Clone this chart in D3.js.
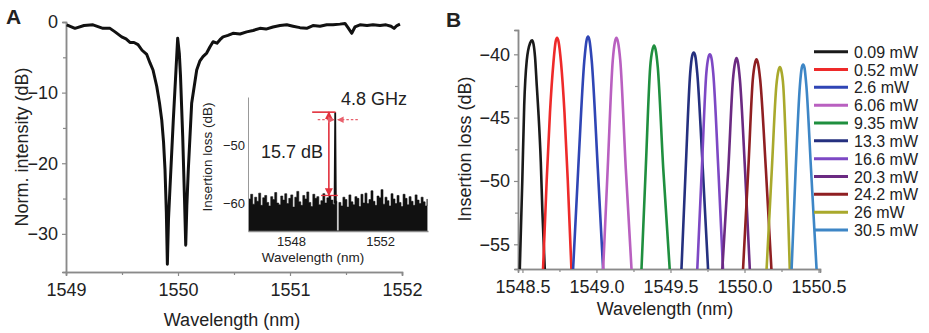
<!DOCTYPE html>
<html>
<head>
<meta charset="utf-8">
<script src="https://cdn.jsdelivr.net/npm/d3@7"></script>
<style>
  body { margin: 0; background: #fff; }
  text { font-family: "Liberation Sans", Arial, Helvetica, sans-serif; fill: #222; }
</style>
</head>
<body>
<svg id="chart" width="929" height="333"></svg>
<script>
// ---- Panel A: main spectrum [wavelength nm, normalized intensity dB]
const mainSpectrum = [
  [1549.006,-0.4],[1549.080,-0.9],[1549.161,-0.5],[1549.241,-0.4],[1549.330,-0.9],
  [1549.393,-0.9],[1549.438,-1.4],[1549.497,-2.1],[1549.536,-2.4],[1549.571,-2.9],
  [1549.607,-2.9],[1549.643,-3.2],[1549.679,-4.0],[1549.721,-4.6],[1549.750,-5.8],
  [1549.777,-6.8],[1549.810,-9.1],[1549.835,-11.5],[1549.855,-13.9],[1549.871,-17.0],
  [1549.884,-20.9],[1549.896,-27.0],[1549.905,-34.3],[1549.915,-28.0],[1549.929,-23.3],
  [1549.958,-13.9],[1549.982,-6.8],[1549.997,-2.3],[1550.012,-4.5],[1550.022,-7.5],
  [1550.042,-16.2],[1550.058,-25.0],[1550.069,-31.6],[1550.079,-26.0],[1550.092,-20.9],
  [1550.122,-11.5],[1550.167,-6.8],[1550.196,-5.5],[1550.223,-4.9],[1550.256,-4.4],
  [1550.286,-3.5],[1550.313,-2.8],[1550.348,-3.0],[1550.375,-2.5],[1550.402,-2.1],
  [1550.446,-1.9],[1550.491,-1.6],[1550.554,-1.7],[1550.613,-1.4],[1550.670,-1.2],
  [1550.732,-0.9],[1550.786,-1.0],[1550.848,-0.7],[1550.911,-0.5],[1550.971,-0.4],
  [1551.027,-0.6],[1551.089,-0.8],[1551.149,-0.9],[1551.205,-0.5],[1551.268,-0.6],
  [1551.328,-0.4],[1551.384,-0.4],[1551.446,-0.3],[1551.491,-0.2],[1551.518,-0.8],
  [1551.551,-1.6],[1551.580,-0.7],[1551.625,-0.4],[1551.688,-0.5],[1551.741,-0.4],
  [1551.804,-0.5],[1551.857,-0.4],[1551.902,-0.6],[1551.929,-0.9],[1551.955,-0.5],
  [1551.982,-0.3]
];
const mainXTicks = [1549, 1550, 1551, 1552];
const mainYTicks = [0, -10, -20, -30];

// ---- Panel A inset: noise floor top (dB), sampled from 1546.1 nm every 0.09 nm
const noiseStart = 1546.1, noiseStep = 0.09;
const noiseTop = [
  -59.2,-58.4,-60.1,-58.9,-59.6,-58.2,-60.3,-59.0,-58.6,-59.8,
  -60.4,-58.8,-59.3,-58.1,-59.9,-60.2,-58.7,-59.4,-58.3,-60.0,
  -59.1,-58.5,-60.6,-58.9,-57.9,-59.7,-60.3,-58.6,-59.2,-58.0,
  -59.8,-60.5,-58.4,-59.1,-58.8,-60.2,-59.5,-58.3,-59.9,-59.0,
  -58.6,-59.4,-60.1,-59.6,-64.7,-59.8,-60.4,-58.9,-59.3,-60.6,
  -58.5,-59.7,-60.2,-58.8,-59.1,-60.5,-58.4,-59.9,-58.2,-60.0,
  -59.3,-57.8,-59.6,-60.3,-58.7,-59.0,-57.6,-60.1,-58.9,-59.5,
  -60.4,-58.3,-59.2,-60.0,-58.6,-59.8,-60.5,-58.4,-59.1,-60.2,
  -58.8,-59.6,-60.3,-58.5,-59.4,-60.0,-58.9,-59.7,-60.4,-59.2
];
const insetPeak = [[1549.955,-60],[1549.985,-44.3],[1550.015,-60]];
const insetXTicks = [1548, 1552];
const insetYTicks = [-50, -60];

// ---- Panel B: filter responses for each heater power
const powerLabels = ["0.09 mW","0.52 mW","2.6 mW","6.06 mW","9.35 mW","13.3 mW",
                     "16.6 mW","20.3 mW","24.2 mW","26 mW","30.5 mW"];
const spec009 = [[1548.482,-57],[1548.499,-50],[1548.512,-44],[1548.529,-40.5],[1548.552,-39.1],[1548.565,-38.9],[1548.575,-39.2],[1548.585,-40.2],[1548.597,-42.5],[1548.608,-44.6],[1548.624,-48.5],[1548.635,-52.5],[1548.651,-57]];
const spec052 = [[1548.639,-57],[1548.664,-49.9],[1548.686,-44.6],[1548.709,-40.7],[1548.724,-39],[1548.734,-38.7],[1548.744,-39],[1548.761,-40.7],[1548.784,-44.6],[1548.806,-49.9],[1548.831,-57]];
const spec26 = [[1548.842,-57],[1548.877,-49],[1548.918,-40.5],[1548.933,-38.9],[1548.943,-38.6],[1548.953,-38.9],[1548.968,-40.5],[1549.009,-49],[1549.045,-57]];
const spec606 = [[1549.045,-57],[1549.076,-49],[1549.110,-40.5],[1549.125,-39],[1549.135,-38.7],[1549.145,-39],[1549.161,-40.5],[1549.198,-49],[1549.237,-57]];
const spec935 = [[1549.304,-57],[1549.333,-49],[1549.363,-41],[1549.379,-39.6],[1549.389,-39.3],[1549.399,-39.6],[1549.414,-41],[1549.451,-49],[1549.495,-57]];
const spec133 = [[1549.574,-57],[1549.603,-49],[1549.633,-41.5],[1549.647,-40.1],[1549.657,-39.86],[1549.667,-40.1],[1549.681,-41.5],[1549.718,-49],[1549.754,-57]];
const spec166 = [[1549.681,-57],[1549.712,-49],[1549.742,-41.5],[1549.756,-40.25],[1549.766,-40.0],[1549.776,-40.25],[1549.789,-41.5],[1549.823,-49],[1549.855,-57]];
const spec203 = [[1549.850,-57],[1549.891,-49],[1549.922,-42],[1549.937,-40.6],[1549.946,-40.3],[1549.955,-40.6],[1549.969,-42],[1550.003,-49],[1550.036,-57]];
const spec242 = [[1549.990,-57],[1550.026,-49],[1550.056,-42],[1550.071,-40.7],[1550.081,-40.4],[1550.091,-40.7],[1550.106,-42],[1550.144,-49],[1550.182,-57]];
const spec26b = [[1550.149,-57],[1550.185,-49],[1550.215,-42.5],[1550.230,-41.25],[1550.239,-41.0],[1550.248,-41.25],[1550.262,-42.5],[1550.285,-49],[1550.306,-57]];
const spec305 = [[1550.318,-57],[1550.346,-49],[1550.374,-42.5],[1550.387,-41.05],[1550.396,-40.8],[1550.405,-41.05],[1550.418,-42.5],[1550.449,-49],[1550.487,-57]];
const spectraB = [spec009, spec052, spec26, spec606, spec935, spec133, spec166, spec203, spec242, spec26b, spec305];
const seriesColors = ["#1a1a1a","#ee2a2a","#2f45b5","#b960c0","#1f8f3f","#25307f",
                      "#7d48c4","#6b2a82","#8f1f22","#a9a92c","#3d86c6"];
const bXTicks = [1548.5, 1549.0, 1549.5, 1550.0, 1550.5];
const bYTicks = [-40, -45, -50, -55];

const svg = d3.select('#chart');
const axisColor = '#8a8a8a';

// small helper: style an axis group the same way everywhere
function styleAxis(g, fontSize) {
  g.select('.domain').attr('stroke', axisColor).attr('stroke-width', 1.5);
  g.selectAll('.tick line').attr('stroke', axisColor).attr('stroke-width', 1.2);
  g.selectAll('.tick text').attr('font-size', fontSize).attr('fill', '#222')
    .style('font-family', '"Liberation Sans", Arial, sans-serif');
}

// ================= Panel A =================
const xA = d3.scaleLinear().domain([1549, 1552]).range([66, 402]);
const yA = d3.scaleLinear().domain([-35.4, 0]).range([272, 22]);

// minor ticks first
svg.append('g').attr('transform', 'translate(0,272)')
  .call(d3.axisBottom(xA).tickValues([1549.5, 1550.5, 1551.5]).tickSize(3).tickFormat(''))
  .call(g => styleAxis(g, 18));
svg.append('g').attr('transform', 'translate(66,0)')
  .call(d3.axisLeft(yA).tickValues([-5, -15, -25]).tickSize(3).tickFormat(''))
  .call(g => styleAxis(g, 18));

svg.append('g').attr('transform', 'translate(0,272)')
  .call(d3.axisBottom(xA).tickValues(mainXTicks).tickSize(4).tickPadding(7).tickFormat(d3.format('d')))
  .call(g => styleAxis(g, 18));
svg.append('g').attr('transform', 'translate(66,0)')
  .call(d3.axisLeft(yA).tickValues(mainYTicks).tickSize(4).tickPadding(4))
  .call(g => styleAxis(g, 18));

svg.append('path')
  .datum(mainSpectrum)
  .attr('fill', 'none')
  .attr('stroke', '#111')
  .attr('stroke-width', 3)
  .attr('stroke-linejoin', 'round')
  .attr('d', d3.line().x(d => xA(d[0])).y(d => yA(d[1])));

svg.append('text').attr('transform', 'translate(28,147) rotate(-90)')
  .attr('text-anchor', 'middle').attr('font-size', 18).text('Norm. intensity (dB)');
svg.append('text').attr('x', 232).attr('y', 326)
  .attr('text-anchor', 'middle').attr('font-size', 18).text('Wavelength (nm)');
svg.append('text').attr('x', 6).attr('y', 24)
  .attr('font-size', 21).attr('font-weight', 'bold').text('A');

// ---- inset
const xI = d3.scaleLinear().domain([1546.07, 1554.15]).range([248, 428]);
const yI = d3.scaleLinear().domain([-64.7, -41.7]).range([231, 97]);

const noiseArea = d3.area()
  .curve(d3.curveStepAfter)
  .x((d, i) => xI(noiseStart + i * noiseStep))
  .y0(yI(-64.7))
  .y1(d => yI(d));
svg.append('path').datum(noiseTop)
  .attr('fill', '#111').attr('stroke', '#111').attr('stroke-width', 0.6)
  .attr('d', noiseArea);
svg.append('path').datum(insetPeak)
  .attr('fill', 'none').attr('stroke', '#111').attr('stroke-width', 1.8)
  .attr('d', d3.line().x(d => xI(d[0])).y(d => yI(d[1])));

svg.append('g').attr('transform', 'translate(0,231)')
  .call(d3.axisBottom(xI).tickValues(insetXTicks).tickSize(0).tickPadding(6).tickFormat(d3.format('d')))
  .call(g => styleAxis(g, 13));
svg.append('g').attr('class', 'inset-y').attr('transform', 'translate(248,0)')
  .call(d3.axisLeft(yI).tickValues(insetYTicks).tickSize(0).tickPadding(3))
  .call(g => styleAxis(g, 13))
  .call(g => g.select('.domain').attr('stroke', '#999').attr('stroke-width', 1));

svg.append('text').attr('transform', 'translate(212,157) rotate(-90)')
  .attr('text-anchor', 'middle').attr('font-size', 13.5).text('Insertion loss (dB)');
svg.append('text').attr('x', 313).attr('y', 262)
  .attr('text-anchor', 'middle').attr('font-size', 13.5).text('Wavelength (nm)');

// red annotations
const red = '#e2313d';
const defs = svg.append('defs');
defs.append('marker').attr('id', 'arr').attr('viewBox', '0 0 10 10')
  .attr('refX', 9).attr('refY', 5).attr('markerWidth', 5).attr('markerHeight', 5)
  .attr('orient', 'auto-start-reverse')
  .append('path').attr('d', 'M0,0 L10,5 L0,10 z').attr('fill', red);
defs.append('marker').attr('id', 'arrp').attr('viewBox', '0 0 10 10')
  .attr('refX', 9).attr('refY', 5).attr('markerWidth', 5).attr('markerHeight', 5)
  .attr('orient', 'auto')
  .append('path').attr('d', 'M0,0 L10,5 L0,10 z').attr('fill', '#e8606c');

svg.append('line')
  .attr('x1', xI(1548.95)).attr('x2', xI(1550.0))
  .attr('y1', yI(-44.3)).attr('y2', yI(-44.3))
  .attr('stroke', red).attr('stroke-width', 1.6);
svg.append('line')
  .attr('x1', xI(1549.7)).attr('x2', xI(1549.7))
  .attr('y1', yI(-44.3)).attr('y2', yI(-58.6))
  .attr('stroke', red).attr('stroke-width', 1.6)
  .attr('marker-start', 'url(#arr)').attr('marker-end', 'url(#arr)');
svg.append('line')
  .attr('x1', xI(1549.35)).attr('x2', xI(1550.1))
  .attr('y1', yI(-58.6)).attr('y2', yI(-58.6))
  .attr('stroke', red).attr('stroke-width', 1.3);
svg.append('line')
  .attr('x1', xI(1549.2)).attr('x2', xI(1549.93))
  .attr('y1', yI(-45.6)).attr('y2', yI(-45.6))
  .attr('stroke', '#e8606c').attr('stroke-width', 1.3).attr('stroke-dasharray', '2.5,2')
  .attr('marker-end', 'url(#arrp)');
svg.append('line')
  .attr('x1', xI(1551.0)).attr('x2', xI(1550.1))
  .attr('y1', yI(-45.6)).attr('y2', yI(-45.6))
  .attr('stroke', '#e8606c').attr('stroke-width', 1.3).attr('stroke-dasharray', '2.5,2')
  .attr('marker-end', 'url(#arrp)');

svg.append('text').attr('x', 341).attr('y', 105).attr('font-size', 18).text('4.8 GHz');
svg.append('text').attr('x', 261).attr('y', 158).attr('font-size', 18).text('15.7 dB');

// ================= Panel B =================
const xB = d3.scaleLinear().domain([1548.47, 1550.51]).range([518, 820]);
const yB = d3.scaleLinear().domain([-56.95, -38.08]).range([269, 30]);

defs.append('clipPath').attr('id', 'clipB')
  .append('rect').attr('x', 518).attr('y', 0).attr('width', 302).attr('height', 269);

svg.append('g').attr('transform', 'translate(0,269)')
  .call(d3.axisBottom(xB).tickValues([1548.75, 1549.25, 1549.75, 1550.25]).tickSize(3).tickFormat(''))
  .call(g => styleAxis(g, 18));
svg.append('g').attr('transform', 'translate(518,0)')
  .call(d3.axisLeft(yB).tickValues([-42.5, -47.5, -52.5]).tickSize(3).tickFormat(''))
  .call(g => styleAxis(g, 18));
svg.append('g').attr('transform', 'translate(0,269)')
  .call(d3.axisBottom(xB).tickValues(bXTicks).tickSize(4).tickPadding(7).tickFormat(d3.format('.1f')))
  .call(g => styleAxis(g, 18));
svg.append('g').attr('transform', 'translate(518,0)')
  .call(d3.axisLeft(yB).tickValues(bYTicks).tickSize(4).tickPadding(4))
  .call(g => styleAxis(g, 18));

const lineB = d3.line().curve(d3.curveMonotoneX).x(d => xB(d[0])).y(d => yB(d[1]));
svg.append('g').attr('clip-path', 'url(#clipB)')
  .selectAll('path')
  .data(spectraB)
  .enter().append('path')
  .attr('fill', 'none')
  .attr('stroke', (d, i) => seriesColors[i])
  .attr('stroke-width', 2.6)
  .attr('stroke-linejoin', 'round')
  .attr('d', lineB);

// legend
const legend = svg.append('g').selectAll('g')
  .data(powerLabels)
  .enter().append('g')
  .attr('transform', (d, i) => `translate(814,${51.7 + i * 17.83})`);
legend.append('line').attr('x1', 0).attr('x2', 34)
  .attr('stroke', (d, i) => seriesColors[i]).attr('stroke-width', 3);
legend.append('text').attr('x', 40).attr('y', 6).attr('font-size', 16).text(d => d);

svg.append('text').attr('transform', 'translate(471,149) rotate(-90)')
  .attr('text-anchor', 'middle').attr('font-size', 18).text('Insertion loss (dB)');
svg.append('text').attr('x', 665).attr('y', 315)
  .attr('text-anchor', 'middle').attr('font-size', 18).text('Wavelength (nm)');
svg.append('text').attr('x', 446).attr('y', 27)
  .attr('font-size', 21).attr('font-weight', 'bold').text('B');
</script>
</body>
</html>
